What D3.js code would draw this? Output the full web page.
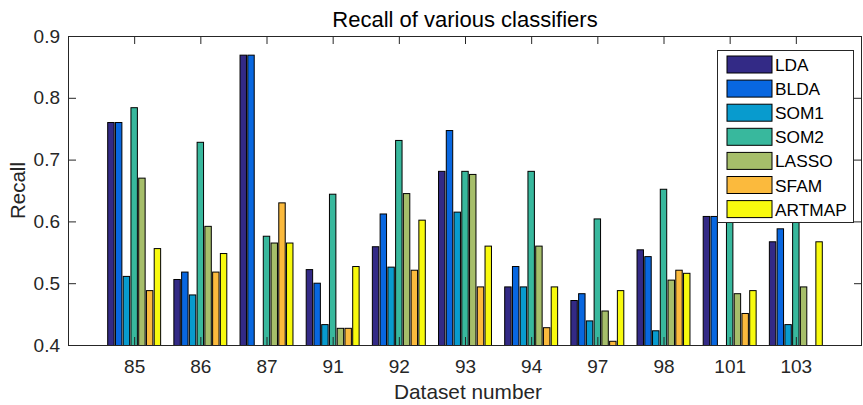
<!DOCTYPE html>
<html>

<head>
    <meta charset="utf-8">
    <style>
        body {
            margin: 0;
            background: #fff;
        }

        svg {
            font-family: Arial, 'Liberation Sans', Helvetica, sans-serif;
        }

        .axis .domain {
            display: none;
        }

        .axis .tick line {
            stroke: #262626;
        }

        .axis .tick text {
            font-size: 19px;
            fill: #262626;
        }
    </style>
</head>

<body>
    <svg width="863" height="405"></svg>
</body>

<script src="https://d3js.org/d3.v7.min.js"></script>

<script>

    // dataset numbers on the x axis
    let datasets = ["85", "86", "87", "91", "92", "93", "94", "97", "98", "101", "103"];
    let classifiers = ["LDA", "BLDA", "SOM1", "SOM2", "LASSO", "SFAM", "ARTMAP"];
    let colors = ["#332a86", "#0867e0", "#089bce", "#38b89d", "#a6be6a", "#fbba3d", "#f8fa0e"];

    // recall per classifier (values under 0.4 sit below the axis, as in the original)
    let lda = [0.760, 0.506, 0.869, 0.522, 0.559, 0.681, 0.494, 0.472, 0.554, 0.608, 0.567];
    let blda = [0.760, 0.518, 0.869, 0.500, 0.612, 0.747, 0.527, 0.483, 0.543, 0.608, 0.588];
    let som1 = [0.511, 0.481, 0.380, 0.433, 0.526, 0.615, 0.494, 0.439, 0.423, 0.380, 0.433];
    let som2 = [0.784, 0.728, 0.576, 0.644, 0.731, 0.681, 0.681, 0.604, 0.652, 0.680, 0.700];
    let lasso = [0.670, 0.592, 0.565, 0.427, 0.645, 0.676, 0.560, 0.455, 0.505, 0.483, 0.494];
    let sfam = [0.488, 0.518, 0.630, 0.427, 0.521, 0.494, 0.428, 0.406, 0.521, 0.451, 0.380];
    let artmap = [0.556, 0.548, 0.565, 0.527, 0.602, 0.560, 0.494, 0.488, 0.516, 0.488, 0.567];

    let yTicks = [0.4, 0.5, 0.6, 0.7, 0.8, 0.9];

    let series = [lda, blda, som1, som2, lasso, sfam, artmap];

    let margin = { top: 36, right: 1, bottom: 60, left: 68 };
    let width = 863;
    let height = 405;

    let svg = d3.select("svg");

    let x = d3.scalePoint()
        .domain(datasets)
        .range([margin.left, width - margin.right])
        .padding(1);

    let groupWidth = x.step() * 0.8;

    let xInner = d3.scaleBand()
        .domain(classifiers)
        .range([-groupWidth / 2, groupWidth / 2])
        .paddingInner(0.17);

    let y = d3.scaleLinear()
        .domain([0.4, 0.9])
        .range([height - margin.bottom, margin.top]);

    let plotW = width - margin.right - margin.left;
    let plotH = height - margin.bottom - margin.top;

    svg.append("clipPath")
        .attr("id", "plot-clip")
        .append("rect")
        .attr("x", margin.left)
        .attr("y", margin.top)
        .attr("width", plotW)
        .attr("height", plotH);

    // bars (MATLAB style: from base value 0, clipped to the axes)
    let barsG = svg.append("g").attr("clip-path", "url(#plot-clip)");

    classifiers.forEach(function (c, i) {
        barsG.append("g")
            .selectAll("rect")
            .data(series[i])
            .join("rect")
            .attr("x", (d, j) => x(datasets[j]) + xInner(c))
            .attr("width", xInner.bandwidth())
            .attr("y", d => y(d))
            .attr("height", d => y(0) - y(d))
            .style("fill", colors[i])
            .style("stroke", "#000")
            .style("stroke-width", 1);
    });

    // axes with inward ticks on all four sides
    svg.append("g")
        .attr("class", "x axis")
        .attr("transform", `translate(0,${height - margin.bottom})`)
        .call(d3.axisBottom(x).tickSizeInner(-8).tickSizeOuter(0).tickPadding(15));

    svg.append("g")
        .attr("class", "x axis")
        .attr("transform", `translate(0,${margin.top})`)
        .call(d3.axisTop(x).tickSizeInner(-8).tickSizeOuter(0).tickFormat(""));

    svg.append("g")
        .attr("class", "y axis")
        .attr("transform", `translate(${margin.left},0)`)
        .call(d3.axisLeft(y).tickValues(yTicks).tickFormat(d3.format(".1f")).tickSizeInner(-8).tickSizeOuter(0).tickPadding(8));

    svg.append("g")
        .attr("class", "y axis")
        .attr("transform", `translate(${width - margin.right},0)`)
        .call(d3.axisRight(y).tickValues(yTicks).tickSizeInner(-8).tickSizeOuter(0).tickFormat(""));

    svg.append("rect")
        .attr("x", margin.left + 0.5)
        .attr("y", margin.top + 0.5)
        .attr("width", plotW - 1)
        .attr("height", plotH)
        .style("fill", "none")
        .style("stroke", "#262626")
        .style("stroke-width", 1);

    // title and labels
    svg.append("text")
        .attr("x", margin.left + plotW / 2)
        .attr("y", 27)
        .attr("text-anchor", "middle")
        .style("font-size", "22px")
        .style("fill", "#000")
        .text("Recall of various classifiers");

    svg.append("text")
        .attr("x", margin.left + plotW / 2 + 3)
        .attr("y", 399)
        .attr("text-anchor", "middle")
        .style("font-size", "20.8px")
        .style("fill", "#262626")
        .text("Dataset number");

    svg.append("text")
        .attr("transform", `translate(25,${margin.top + plotH / 2}) rotate(-90)`)
        .attr("text-anchor", "middle")
        .style("font-size", "20.5px")
        .style("fill", "#262626")
        .text("Recall");

    // legend
    let legend = svg.append("g").attr("transform", "translate(717.5,50.5)");

    legend.append("rect")
        .attr("width", 136)
        .attr("height", 172)
        .style("fill", "#fff")
        .style("stroke", "#262626")
        .style("stroke-width", 1);

    let items = legend.selectAll(".item")
        .data(classifiers)
        .join("g")
        .attr("class", "item")
        .attr("transform", (d, i) => `translate(0,${14 + i * 24.1})`);

    items.append("rect")
        .attr("x", 9.5)
        .attr("y", -8.5)
        .attr("width", 45)
        .attr("height", 17)
        .style("fill", (d, i) => colors[i])
        .style("stroke", "#000")
        .style("stroke-width", 1);

    items.append("text")
        .attr("x", 57.5)
        .attr("y", 6.5)
        .style("font-size", "17.3px")
        .style("fill", "#000")
        .text(d => d);

</script>

</html>
